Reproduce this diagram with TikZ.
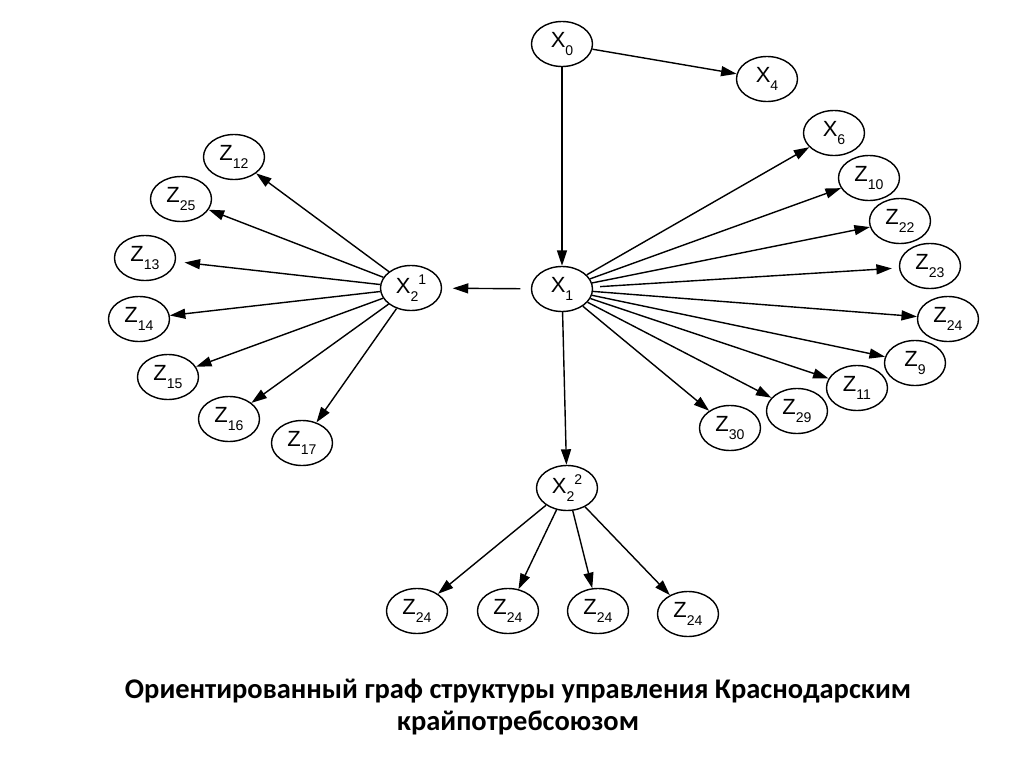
\documentclass[tikz,border=0pt]{standalone}
\usepackage{fontspec}
\setmainfont{Liberation Sans}
\newfontfamily\capfont{Carlito}
\usetikzlibrary{arrows.meta,shapes.geometric}
\newcommand{\sbs}[1]{\raisebox{-0.36em}{\fontsize{8}{9}\selectfont #1}}
\newcommand{\sps}[1]{\raisebox{0.42em}{\fontsize{8}{9}\selectfont #1}}
\begin{document}
\begin{tikzpicture}[x=0.2mm,y=-0.2mm,
  vnode/.style={draw,ellipse,line width=0.8pt,minimum width=12.2mm,minimum height=9mm,inner sep=0pt,font=\fontsize{12.5}{14}\selectfont},
  arr/.style={-{Triangle[length=3.1mm,width=2mm]},line width=0.8pt},
  caption/.style={font=\capfont\bfseries\fontsize{16.2}{18.5}\selectfont,align=center}]
\useasboundingbox (0,0) rectangle (1024,767);
% top
\node[vnode] (x0) at (562,44) {X\sbs{0}};
\node[vnode] (x4) at (767,79) {X\sbs{4}};
\node[vnode] (x1) at (562,289) {X\sbs{1}};
\node[vnode] (x21) at (411,288) {X\sbs{2}\sps{1}};
\node[vnode] (x22) at (567,488) {X\sbs{2}\sps{2}};
% right fan
\node[vnode] (x6) at (834,133) {X\sbs{6}};
\node[vnode] (z10) at (869,178) {Z\sbs{10}};
\node[vnode] (z22) at (900,221) {Z\sbs{22}};
\node[vnode] (z23) at (930,266) {Z\sbs{23}};
\node[vnode] (z24r) at (948,319) {Z\sbs{24}};
\node[vnode] (z9) at (915,363) {Z\sbs{9}};
\node[vnode] (z11) at (857,388) {Z\sbs{11}};
\node[vnode] (z29) at (797,411) {Z\sbs{29}};
\node[vnode] (z30) at (730,428) {Z\sbs{30}};
% left fan
\node[vnode] (z12) at (234,157) {Z\sbs{12}};
\node[vnode] (z25) at (181,199) {Z\sbs{25}};
\node[vnode] (z13) at (145,258) {Z\sbs{13}};
\node[vnode] (z14) at (139,319) {Z\sbs{14}};
\node[vnode] (z15) at (168,377) {Z\sbs{15}};
\node[vnode] (z16) at (229,419) {Z\sbs{16}};
\node[vnode] (z17) at (302,443) {Z\sbs{17}};
% bottom
\node[vnode] (b1) at (417,611) {Z\sbs{24}};
\node[vnode] (b2) at (508,611) {Z\sbs{24}};
\node[vnode] (b3) at (598,611) {Z\sbs{24}};
\node[vnode] (b4) at (688,614) {Z\sbs{24}};
% edges
\draw[arr] (x0) -- (x4);
\draw[arr] (x0) -- (x1);
\draw[arr,shorten <=6pt,shorten >=6pt] (x1) -- (x21);
\draw[arr] (x1) -- (x22);
\foreach \t in {x6,z10,z22,z24r,z9,z11,z29,z30} \draw[arr] (x1) -- (\t);
\draw[arr,shorten <=4pt,shorten >=4pt] (x1) -- (z23);
\foreach \t in {z12,z25,z14,z15,z16,z17} \draw[arr] (x21) -- (\t);
\draw[arr,shorten >=5pt] (x21) -- (z13);
\foreach \t in {b1,b2,b3,b4} \draw[arr] (x22) -- (\t);
% caption
\node[caption] (cap) at (518,707) {Ориентированный граф структуры управления Краснодарским\\крайпотребсоюзом};
\end{tikzpicture}
\end{document}
